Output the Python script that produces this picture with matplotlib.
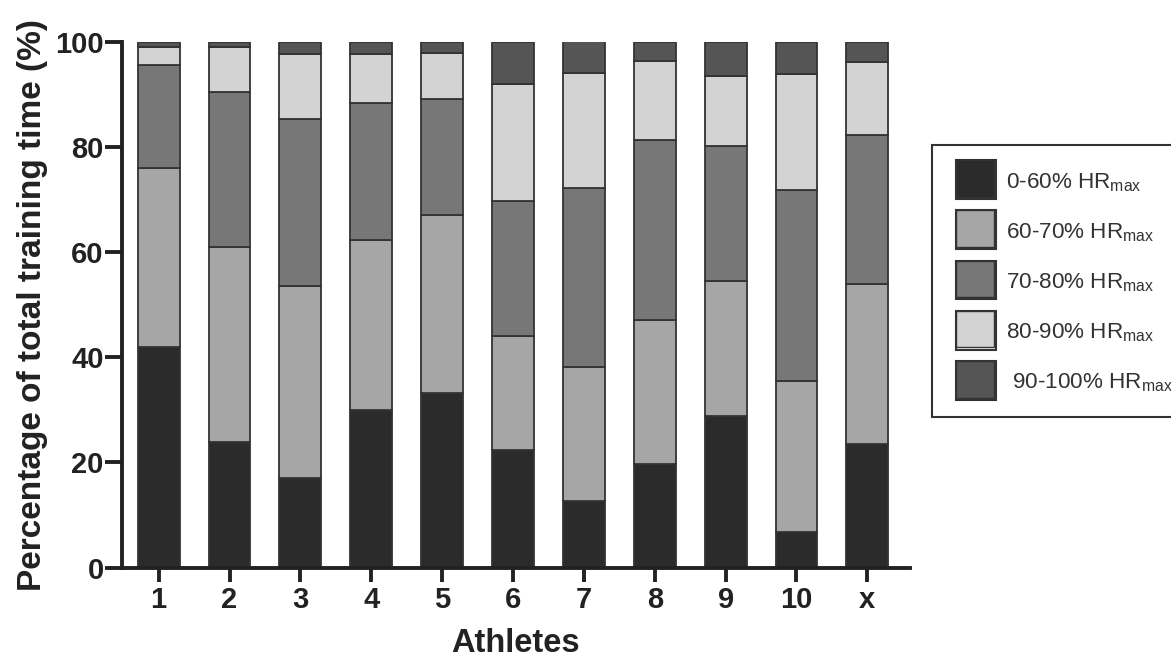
import numpy as np
import matplotlib
matplotlib.use("Agg")
import matplotlib.pyplot as plt
from matplotlib.patches import Rectangle
from matplotlib.container import BarContainer
from matplotlib.legend_handler import HandlerBase

plt.rcParams['font.family'] = ['Liberation Sans', 'DejaVu Sans']
plt.rcParams['mathtext.default'] = 'regular'

athletes = ['1', '2', '3', '4', '5', '6', '7', '8', '9', '10', 'x']
zone_0_60 = [41.9, 23.8, 17.0, 29.9, 33.1, 22.4, 12.7, 19.7, 28.9, 6.7, 23.5]
zone_60_70 = [34.1, 37.2, 36.6, 32.4, 34.0, 21.6, 25.5, 27.3, 25.6, 28.7, 30.4]
zone_70_80 = [19.5, 29.5, 31.7, 26.0, 22.0, 25.6, 33.9, 34.2, 25.7, 36.3, 28.4]
zone_80_90 = [3.5, 8.4, 12.3, 9.4, 8.8, 22.4, 22.0, 15.1, 13.3, 22.1, 13.8]
zone_90_100 = [1.0, 1.1, 2.4, 2.3, 2.1, 8.0, 6.0, 3.7, 6.5, 6.2, 3.9]

labels = ['0-60% HR$_{max}$', '60-70% HR$_{max}$', '70-80% HR$_{max}$',
          '80-90% HR$_{max}$', ' 90-100% HR$_{max}$']
colors = ['#2b2b2b', '#a6a6a6', '#777777', '#d3d3d3', '#555555']


class BoxHandler(HandlerBase):
    # square swatch with a white strip at bottom/right, like the original
    def create_artists(self, legend, orig_handle, xdescent, ydescent,
                       width, height, fontsize, trans):
        col = orig_handle.patches[0].get_facecolor()
        w, h = 28.9, 28.0
        x0 = -xdescent + (width - w)
        y0 = -8.0
        back = Rectangle((x0, y0), w, h, facecolor='white',
                         edgecolor='#333333', linewidth=1.5, transform=trans)
        front = Rectangle((x0, y0 + 1.6), w - 1.6, h - 1.6, facecolor=col,
                          edgecolor='#333333', linewidth=1.0, transform=trans)
        return [back, front]


fig = plt.figure(figsize=(11.71, 6.6), dpi=100)
ax = fig.add_axes([0.104, 0.140, 0.673, 0.797])

x = np.arange(1, len(athletes) + 1)
bottom = np.zeros(len(athletes))
handles = []
for vals, col, lab in zip([zone_0_60, zone_60_70, zone_70_80, zone_80_90, zone_90_100], colors, labels):
    b = ax.bar(x, vals, 0.59, bottom=bottom, color=col, edgecolor='#333333',
               linewidth=1.3, label=lab)
    bottom += np.array(vals)
    handles.append(b)

ax.set_xlim(0.48, 11.6)
ax.set_ylim(0, 100)
ax.set_yticks([0, 20, 40, 60, 80, 100])
ax.set_xticks(x)
ax.set_xticklabels(athletes)
for s in ['top', 'right']:
    ax.spines[s].set_visible(False)
for s in ['left', 'bottom']:
    ax.spines[s].set_linewidth(2.8)
    ax.spines[s].set_color('#222222')
ax.tick_params(axis='both', width=2.8, color='#222222', labelsize=21)
ax.tick_params(axis='x', length=10, pad=3)
ax.tick_params(axis='y', length=12, pad=1)
for t in ax.get_xticklabels() + ax.get_yticklabels():
    t.set_fontweight('bold')
    t.set_color('#222222')

ax.set_ylabel('Percentage of total training time (%)', fontsize=24,
              fontweight='bold', color='#222222', labelpad=5)
ax.set_xlabel('Athletes', fontsize=23.5, fontweight='bold', color='#222222', labelpad=10)

leg = fig.legend(handles=handles, labels=labels, loc='upper left',
                 bbox_to_anchor=(932 / 1171, 1 - 145 / 660), borderaxespad=0,
                 fontsize=17, handlelength=2.03, handleheight=2.12, labelspacing=0.5,
                 handletextpad=0.4, borderpad=0.7, fancybox=False,
                 edgecolor='#333333', framealpha=1,
                 handler_map={BarContainer: BoxHandler()})
leg.get_frame().set_linewidth(1.5)
for t in leg.get_texts():
    t.set_color('#333333')
    t.set_fontsize(16.2)

fig.savefig('out.png', dpi=100)
